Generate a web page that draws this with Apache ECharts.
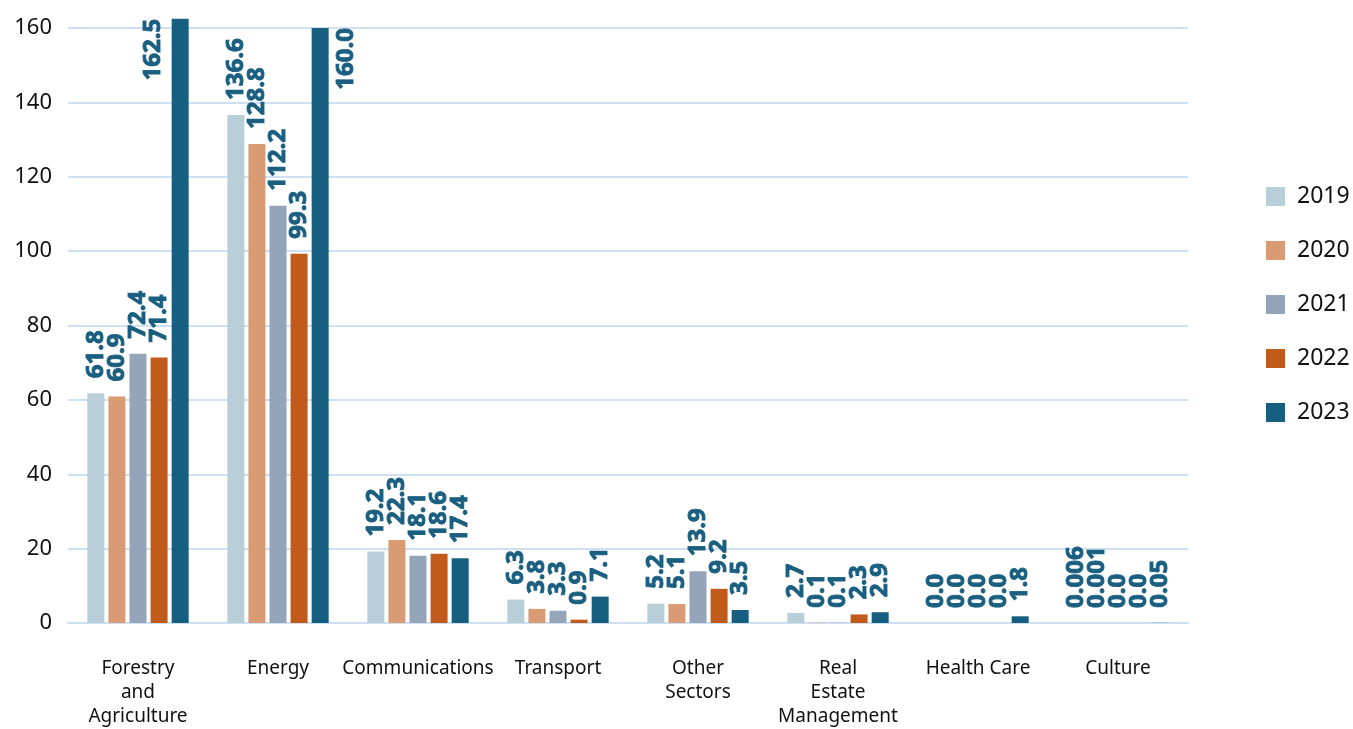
<!DOCTYPE html>
<html>
<head>
<meta charset="utf-8">
<script src="https://cdn.jsdelivr.net/npm/echarts@6/dist/echarts.min.js"></script>
<style>html,body{margin:0;padding:0;background:#fff}#c{width:1353px;height:729px}</style>
</head>
<body>
<div id="c"></div>
<script>
const categories = ['Forestry\nand\nAgriculture', 'Energy', 'Communications', 'Transport', 'Other\nSectors', 'Real\nEstate\nManagement', 'Health Care', 'Culture'];
const years = ['2019', '2020', '2021', '2022', '2023'];
const v2019 = [61.8, 136.6, 19.2, 6.3, 5.2, 2.7, 0.0, 0.006];
const v2020 = [60.9, 128.8, 22.3, 3.8, 5.1, 0.1, 0.0, 0.001];
const v2021 = [72.4, 112.2, 18.1, 3.3, 13.9, 0.1, 0.0, 0.0];
const v2022 = [71.4, 99.3, 18.6, 0.9, 9.2, 2.3, 0.0, 0.0];
const v2023 = [162.5, 160.0, 17.4, 7.1, 3.5, 2.9, 1.8, 0.05];
const yTicks = [0, 20, 40, 60, 80, 100, 120, 140, 160];

const colors = ['#b8cfd9', '#d89b74', '#94a5ba', '#c05b1c', '#175f80'];
const labelColor = '#1a5f80';
const seriesValues = [v2019, v2020, v2021, v2022, v2023];

function fmt(v) {
  if (v === 0) return '0.0';
  if (v < 0.1) return String(v);
  return v.toFixed(1);
}

// label overrides for the two tallest bars (placed beside the bar)
const sideLabel = { 0: [-19, 0], 1: [34, 0] };

const series = seriesValues.map((vals, si) => ({
  name: years[si],
  type: 'bar',
  barWidth: 17,
  barGap: '24%',
  clip: false,
  itemStyle: { color: colors[si] },
  label: {
    show: true,
    position: 'top',
    rotate: 90,
    align: 'left',
    verticalAlign: 'middle',
    distance: 15,
    color: labelColor,
    fontFamily: 'Noto Sans',
    fontWeight: 'bold',
    fontSize: 24,
    textBorderColor: labelColor,
    textBorderWidth: 0.9,
    formatter: p => fmt(p.value)
  },
  data: vals.map((v, ci) => {
    if (si === 4 && sideLabel[ci]) {
      return { value: v, label: { position: sideLabel[ci], align: 'right', verticalAlign: 'middle', distance: 0 } };
    }
    return v;
  })
}));

const chart = echarts.init(document.getElementById('c'));
chart.setOption({
  animation: false,
  color: colors,
  grid: { left: 68, right: 165, top: 28, bottom: 101, containLabel: false },
  legend: {
    orient: 'vertical',
    left: 1261,
    top: 180,
    itemWidth: 19,
    itemHeight: 19,
    itemGap: 31,
    icon: 'rect',
    textStyle: { fontFamily: 'Noto Sans', fontSize: 23, color: '#111', padding: [0, 0, 0, 7] },
    data: years
  },
  xAxis: {
    type: 'category',
    data: categories,
    axisLine: { show: true, lineStyle: { color: '#cfe0f3', width: 2 } },
    axisTick: { show: false },
    axisLabel: { interval: 0, margin: 34, fontFamily: 'Noto Sans', fontSize: 19, lineHeight: 24, color: '#111' }
  },
  yAxis: {
    type: 'value',
    min: yTicks[0],
    max: yTicks[yTicks.length - 1],
    interval: yTicks[1] - yTicks[0],
    axisLine: { show: false },
    axisTick: { show: false },
    splitLine: { lineStyle: { color: '#cfe0f3', width: 2 } },
    axisLabel: { margin: 16, fontFamily: 'Noto Sans', fontSize: 22, color: '#111' }
  },
  series: series
});
</script>
</body>
</html>
